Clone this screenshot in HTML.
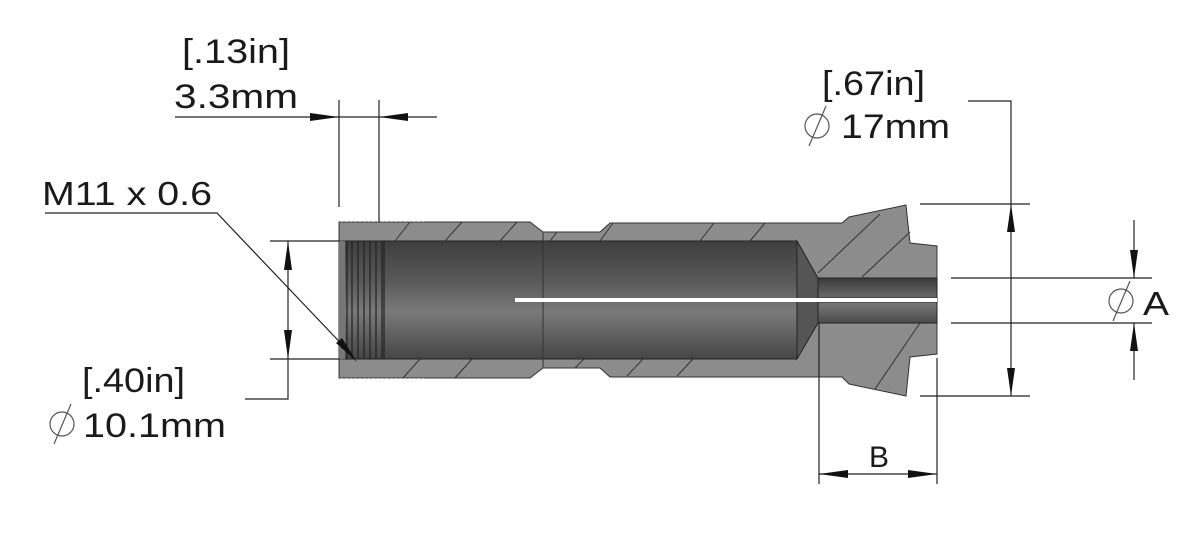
<!DOCTYPE html>
<html><head><meta charset="utf-8"><style>
html,body{margin:0;padding:0;background:#fff;width:1200px;height:551px;overflow:hidden}
svg{display:block}
text{font-family:"Liberation Sans",sans-serif;fill:#1a1a1a}
</style></head><body>
<svg width="1200" height="551" viewBox="0 0 1200 551" xmlns="http://www.w3.org/2000/svg">
<defs>
<linearGradient id="bore" x1="0" y1="0" x2="0" y2="1">
<stop offset="0" stop-color="#3e3e3e"/><stop offset="0.35" stop-color="#5a5a5a"/>
<stop offset="0.6" stop-color="#7a7a7a"/><stop offset="1" stop-color="#454545"/></linearGradient>
<linearGradient id="sb" x1="0" y1="0" x2="0" y2="1">
<stop offset="0" stop-color="#3a3a3a"/><stop offset="1" stop-color="#6a6a6a"/></linearGradient>
<linearGradient id="sb2" x1="0" y1="0" x2="0" y2="1">
<stop offset="0" stop-color="#7a7a7a"/><stop offset="1" stop-color="#4a4a4a"/></linearGradient>
</defs>
<path d="M339,222 L530,222 L543,232 L600,232 L610,223 L842,223 L849,217 L906,205 L910,243 L937,246 L937,354 L910,357 L906,396 L849,384 L842,377 L610,377 L600,368 L543,368 L530,378 L339,378 Z" fill="#8c8c8c" stroke="#333" stroke-width="1"/>
<g stroke="#fff" stroke-width="1.5" stroke-dasharray="2 2.5"><line x1="341" y1="221" x2="424" y2="221"/><line x1="341" y1="379" x2="424" y2="379"/></g>
<g stroke="#333" stroke-width="1">
<line x1="395" y1="241" x2="410" y2="222"/><line x1="445" y1="241" x2="462" y2="222"/><line x1="500" y1="241" x2="517" y2="222"/>
<line x1="550" y1="241" x2="557" y2="232"/><line x1="600" y1="241" x2="613" y2="223"/>
<line x1="700" y1="241" x2="714" y2="223"/><line x1="750" y1="241" x2="765" y2="223"/>
<line x1="818" y1="273" x2="880" y2="214"/><line x1="862" y1="277" x2="910" y2="232"/>
<line x1="403" y1="378" x2="420" y2="359"/><line x1="455" y1="378" x2="472" y2="359"/>
<line x1="575" y1="368" x2="584" y2="359"/><line x1="627" y1="376" x2="643" y2="359"/><line x1="677" y1="376" x2="693" y2="359"/>
<line x1="875" y1="389" x2="920" y2="323"/>
</g>
<rect x="341" y="241" width="456" height="118" fill="url(#bore)" stroke="#222"/>
<path d="M797,241 L818,278 L818,323 L797,359 Z" fill="#555" stroke="#222"/>
<rect x="818" y="278" width="119" height="20" fill="url(#sb)" stroke="#222"/>
<rect x="818" y="302" width="119" height="21" fill="url(#sb2)" stroke="#222"/>
<line x1="543" y1="232" x2="543" y2="368" stroke="#333"/>
<g stroke="#222" stroke-width="1.2">
<line x1="347" y1="241" x2="347" y2="359"/><line x1="352" y1="241" x2="352" y2="359"/><line x1="358" y1="241" x2="358" y2="359"/>
<line x1="364" y1="241" x2="364" y2="359"/><line x1="370" y1="241" x2="370" y2="359"/><line x1="376" y1="241" x2="376" y2="359"/>
<line x1="382" y1="241" x2="382" y2="359"/><line x1="384" y1="241" x2="384" y2="359"/></g>
<rect x="339" y="241" width="6" height="118" fill="#777"/>
<rect x="515" y="298" width="422" height="4" fill="#fff"/>
<g stroke="#222" stroke-width="1.2" fill="none">
<line x1="175" y1="117" x2="437" y2="117"/>
<line x1="339" y1="100" x2="339" y2="207"/><line x1="379" y1="100" x2="379" y2="222"/>
<polyline points="45,213 217,213 352,355"/>
<line x1="270" y1="241" x2="340" y2="241"/><line x1="270" y1="359" x2="340" y2="359"/>
<polyline points="288,241 288,399 245,399"/>
<polyline points="968,101 1011,101 1011,396"/>
<line x1="920" y1="204" x2="1030" y2="204"/><line x1="920" y1="396" x2="1030" y2="396"/>
<line x1="951" y1="278" x2="1152" y2="278"/><line x1="951" y1="323" x2="1152" y2="323"/>
<line x1="1134" y1="220" x2="1134" y2="278"/><line x1="1134" y1="323" x2="1134" y2="380"/>
<line x1="819" y1="323" x2="819" y2="484"/><line x1="937" y1="358" x2="937" y2="484"/>
<line x1="819" y1="474" x2="937" y2="474"/>
</g>
<g fill="#111">
<polygon points="339,117 310,113 310,121"/><polygon points="379,117 408,113 408,121"/>
<polygon points="357,362 336,343 342,338"/>
<polygon points="288,241 284,270 292,270"/><polygon points="288,359 284,330 292,330"/>
<polygon points="1011,204 1007,232 1015,232"/><polygon points="1011,396 1007,368 1015,368"/>
<polygon points="1134,278 1130,250 1138,250"/><polygon points="1134,323 1130,351 1138,351"/>
<polygon points="819,474 848,470 848,478"/><polygon points="937,474 908,470 908,478"/>
</g>
<text x="182" y="63" font-size="34" textLength="108" lengthAdjust="spacingAndGlyphs">[.13in]</text>
<text x="174" y="108" font-size="34" textLength="124" lengthAdjust="spacingAndGlyphs">3.3mm</text>
<text x="42" y="205" font-size="33" textLength="170" lengthAdjust="spacingAndGlyphs">M11 x 0.6</text>
<text x="82" y="392" font-size="34" textLength="103" lengthAdjust="spacingAndGlyphs">[.40in]</text>
<text x="83" y="437" font-size="34" textLength="143" lengthAdjust="spacingAndGlyphs">10.1mm</text>
<text x="822" y="95" font-size="34" textLength="103" lengthAdjust="spacingAndGlyphs">[.67in]</text>
<text x="841" y="138" font-size="34" textLength="109" lengthAdjust="spacingAndGlyphs">17mm</text>
<text x="1143" y="315" font-size="33" textLength="26" lengthAdjust="spacingAndGlyphs">A</text>
<text x="869" y="467" font-size="30">B</text>
<g stroke="#555" stroke-width="1.2" fill="none">
<circle cx="62" cy="424" r="12"/><line x1="54" y1="444" x2="71" y2="404"/>
<circle cx="817" cy="126" r="12"/><line x1="809" y1="146" x2="826" y2="106"/>
<circle cx="1121" cy="301" r="12"/><line x1="1113" y1="321" x2="1130" y2="281"/>
</g>
</svg>
</body></html>
